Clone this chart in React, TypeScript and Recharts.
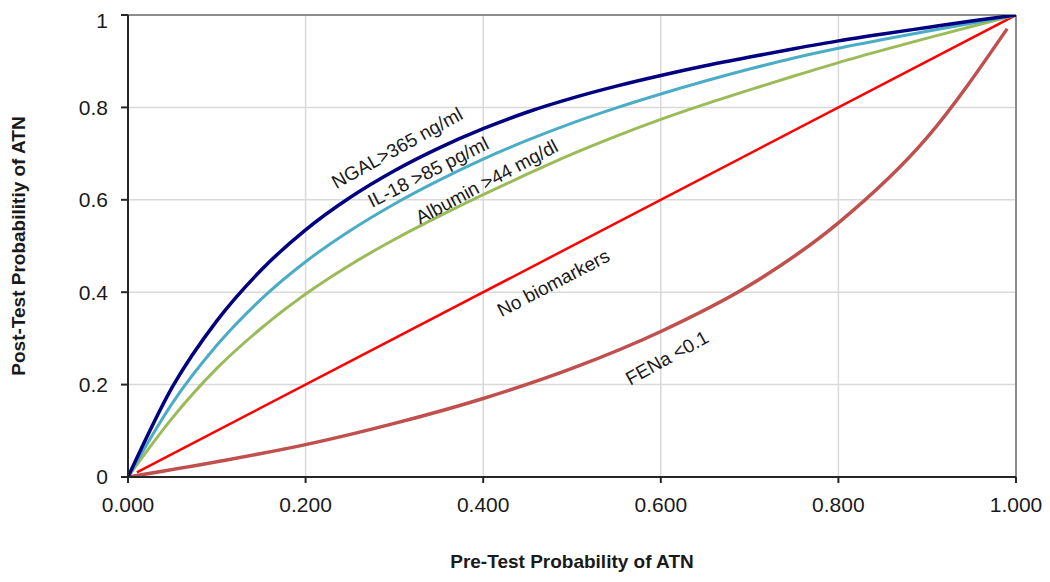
import React from "react";
import {
  LineChart,
  Line,
  XAxis,
  YAxis,
  CartesianGrid,
  ReferenceLine,
  ReferenceDot,
} from "recharts";

// Pre-test probability (x) points
const preTest = [0, 0.05, 0.1, 0.15, 0.2, 0.25, 0.3, 0.35, 0.4, 0.45, 0.5, 0.55, 0.6, 0.65, 0.7, 0.75, 0.8, 0.85, 0.9, 0.95, 1.0];
const ngalPost = [0, 0.195, 0.338, 0.448, 0.535, 0.605, 0.663, 0.712, 0.754, 0.79, 0.82, 0.846, 0.869, 0.89, 0.909, 0.927, 0.944, 0.959, 0.973, 0.987, 1.0];
const il18Post = [0, 0.16, 0.285, 0.385, 0.466, 0.533, 0.591, 0.642, 0.688, 0.729, 0.766, 0.799, 0.829, 0.857, 0.883, 0.907, 0.928, 0.947, 0.965, 0.982, 1.0];
const albuminPost = [0, 0.128, 0.235, 0.322, 0.396, 0.459, 0.514, 0.564, 0.611, 0.656, 0.699, 0.738, 0.774, 0.807, 0.838, 0.868, 0.897, 0.924, 0.95, 0.975, 1.0];

const noBioPre = [0.01, 1.0];
const noBioPost = [0.01, 1.0];

const fenaPre = [0, 0.1, 0.2, 0.3, 0.4, 0.5, 0.6, 0.7, 0.8, 0.9, 0.99];
const fenaPost = [0, 0.033, 0.07, 0.116, 0.17, 0.235, 0.315, 0.415, 0.55, 0.735, 0.97];

const xTicks = [0, 0.2, 0.4, 0.6, 0.8, 1.0];
const yTicks = [0, 0.2, 0.4, 0.6, 0.8, 1.0];

// Curve annotation labels (text, anchor in data coordinates, rotation)
const curveLabelText = ["NGAL>365 ng/ml", "IL-18 >85 pg/ml", "Albumin >44 mg/dl", "No biomarkers", "FENa <0.1"];
const curveLabelX = [0.303, 0.338, 0.404, 0.479, 0.607];
const curveLabelY = [0.712, 0.66, 0.639, 0.42, 0.258];
const curveLabelAngle = [-29, -27, -28, -27.5, -29];

const zip = (xs: number[], ys: number[]) => xs.map((x, i) => ({ x, y: ys[i] }));

const FONT = "'Liberation Sans', Arial, sans-serif";
const TEXT = "#1a1a1a";

const makeCurveLabel = (text: string, angle: number) => (props: any) => {
  const vb = props.viewBox || {};
  const cx = (vb.x ?? 0) + (vb.width ?? 0) / 2;
  const cy = (vb.y ?? 0) + (vb.height ?? 0) / 2;
  return (
    <text
      x={cx}
      y={cy}
      transform={`rotate(${angle} ${cx} ${cy})`}
      textAnchor="middle"
      dominantBaseline="central"
      fontSize={19}
      fontFamily={FONT}
      fill={TEXT}
    >
      {text}
    </text>
  );
};

const xTitle = (props: any) => {
  const vb = props.viewBox || {};
  const cx = vb.x + vb.width / 2;
  const cy = vb.y + 84;
  return (
    <text x={cx} y={cy} textAnchor="middle" dominantBaseline="central" fontSize={19} fontWeight="bold" fontFamily={FONT} fill={TEXT}>
      Pre-Test Probability of ATN
    </text>
  );
};

const yTitle = (props: any) => {
  const vb = props.viewBox || {};
  const cx = vb.x + 10;
  const cy = vb.y + vb.height / 2;
  return (
    <text
      x={cx}
      y={cy}
      transform={`rotate(-90 ${cx} ${cy})`}
      textAnchor="middle"
      dominantBaseline="central"
      fontSize={19}
      fontWeight="bold"
      fontFamily={FONT}
      fill={TEXT}
    >
      Post-Test Probabilitiy of ATN
    </text>
  );
};

export default function App() {
  return (
    <div style={{ width: 1034, height: 566, fontFamily: FONT }}>
      <LineChart width={1034} height={566} margin={{ top: 7, right: 26, left: 0, bottom: 0 }}>
        <CartesianGrid stroke="#d9d9d9" strokeWidth={1.5} />
        <XAxis
          type="number"
          dataKey="x"
          domain={[0, 1]}
          ticks={xTicks}
          tickFormatter={(v: number) => v.toFixed(3)}
          height={97}
          stroke="#262626"
          strokeWidth={2}
          tickSize={6}
          tickMargin={14}
          tick={{ fontSize: 21, fill: TEXT, fontFamily: FONT }}
          allowDataOverflow
          label={xTitle}
        />
        <YAxis
          type="number"
          dataKey="y"
          domain={[0, 1]}
          ticks={yTicks}
          tickFormatter={(v: number) => String(v)}
          width={120}
          stroke="#262626"
          strokeWidth={2}
          tickSize={7}
          tickMargin={13}
          tick={{ fontSize: 21, fill: TEXT, fontFamily: FONT }}
          allowDataOverflow
          label={yTitle}
        />
        <ReferenceLine y={1} stroke="#8c8c8c" strokeWidth={2} />
        <ReferenceLine x={1} stroke="#8c8c8c" strokeWidth={2} />
        <Line
          data={zip(noBioPre, noBioPost)}
          dataKey="y"
          type="linear"
          stroke="#ff0000"
          strokeWidth={2.5}
          dot={false}
          isAnimationActive={false}
        />
        <Line
          data={zip(fenaPre, fenaPost)}
          dataKey="y"
          type="monotone"
          stroke="#c0504d"
          strokeWidth={3.5}
          dot={false}
          isAnimationActive={false}
        />
        <Line
          data={zip(preTest, albuminPost)}
          dataKey="y"
          type="monotone"
          stroke="#9bbb59"
          strokeWidth={3}
          dot={false}
          isAnimationActive={false}
        />
        <Line
          data={zip(preTest, il18Post)}
          dataKey="y"
          type="monotone"
          stroke="#4bacc6"
          strokeWidth={3}
          dot={false}
          isAnimationActive={false}
        />
        <Line
          data={zip(preTest, ngalPost)}
          dataKey="y"
          type="monotone"
          stroke="#000080"
          strokeWidth={3.5}
          dot={false}
          isAnimationActive={false}
        />
        {curveLabelText.map((t, i) => (
          <ReferenceDot
            key={t}
            x={curveLabelX[i]}
            y={curveLabelY[i]}
            r={1}
            fill="none"
            stroke="none"
            label={makeCurveLabel(t, curveLabelAngle[i])}
          />
        ))}
      </LineChart>
    </div>
  );
}
